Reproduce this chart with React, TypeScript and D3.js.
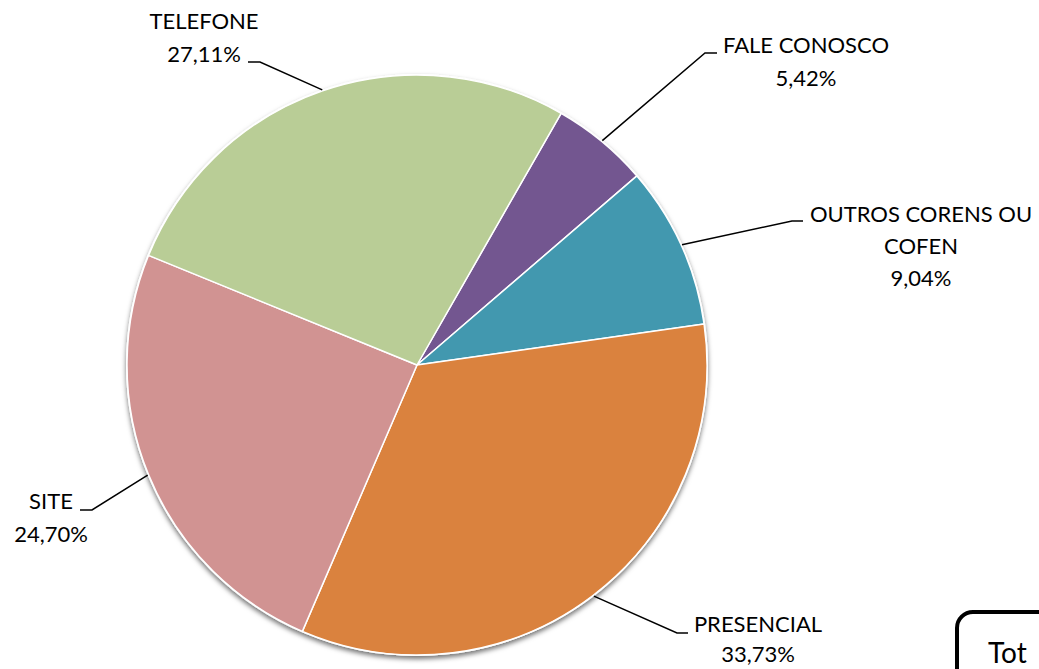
import React, { useEffect, useRef } from 'react';
import * as d3 from 'd3';

// data in the order the slices run clockwise from the first slice
const categories = ['FALE CONOSCO', 'OUTROS CORENS OU COFEN', 'PRESENCIAL', 'SITE', 'TELEFONE'];
const shares = [5.42, 9.04, 33.73, 24.7, 27.11];
const colors = ['#735690', '#4298AF', '#DA823E', '#D19392', '#B9CD96'];
const labelLines = [['FALE CONOSCO'], ['OUTROS CORENS OU', 'COFEN'], ['PRESENCIAL'], ['SITE'], ['TELEFONE']];

// layout of the callouts (text centre x, first baseline y, line gap, leader y, elbow x, text edge x)
const labelLayout = [
  { x: 806, y: 53, gap: 33, lineY: 53, elbow: 705, edge: 717 },
  { x: 921, y: 222, gap: 32, lineY: 221, elbow: 792, edge: 803 },
  { x: 758, y: 632, gap: 30, lineY: 633, elbow: 677, edge: 688 },
  { x: 51, y: 509, gap: 33, lineY: 510, elbow: 92, edge: 80 },
  { x: 204, y: 29, gap: 33, lineY: 62, elbow: 260, edge: 248 }
];

const FONT = "Lato, 'Open Sans', Arial, sans-serif";

const App = () => {
  const svgRef = useRef(null);

  useEffect(() => {
    if (!svgRef.current) return;
    const width = 1039;
    const height = 669;
    const cx = 417;
    const cy = 365;
    const radius = 290;

    const svg = d3.select(svgRef.current);
    svg.selectAll('*').remove();
    svg.attr('width', width).attr('height', height).attr('viewBox', [0, 0, width, height]);

    svg.append('rect').attr('width', width).attr('height', height).attr('fill', '#fff');

    const defs = svg.append('defs');
    const filter = defs.append('filter')
      .attr('id', 'pieShadow')
      .attr('x', '-10%').attr('y', '-10%')
      .attr('width', '120%').attr('height', '120%');
    filter.append('feDropShadow')
      .attr('dx', 0).attr('dy', 3)
      .attr('stdDeviation', 2.5)
      .attr('flood-color', '#000')
      .attr('flood-opacity', 0.55);

    const startOffset = (29.8 * Math.PI) / 180;
    const pie = d3.pie<number>()
      .sort(null)
      .value(d => d)
      .startAngle(startOffset)
      .endAngle(startOffset + 2 * Math.PI);
    const arcs = pie(shares);
    const arc = d3.arc<d3.PieArcDatum<number>>().innerRadius(0).outerRadius(radius);

    const g = svg.append('g').attr('transform', `translate(${cx},${cy})`);

    // shadow disc under the pie
    g.append('circle')
      .attr('r', radius + 1)
      .attr('fill', '#fff')
      .attr('filter', 'url(#pieShadow)');

    g.selectAll('path.slice')
      .data(arcs)
      .enter()
      .append('path')
      .attr('class', 'slice')
      .attr('d', arc)
      .attr('fill', (d, i) => colors[i])
      .attr('stroke', '#fff')
      .attr('stroke-width', 1.5)
      .attr('stroke-linejoin', 'round');

    // leader lines and labels
    arcs.forEach((d, i) => {
      const mid = (d.startAngle + d.endAngle) / 2;
      const px = cx + (radius + 1) * Math.sin(mid);
      const py = cy - (radius + 1) * Math.cos(mid);
      const lay = labelLayout[i];
      const lines = labelLines[i];

      svg.append('polyline')
        .attr('points', `${px},${py} ${lay.elbow},${lay.lineY} ${lay.edge},${lay.lineY}`)
        .attr('fill', 'none')
        .attr('stroke', '#000')
        .attr('stroke-width', 1.5);

      const t = svg.append('text')
        .attr('text-anchor', 'middle')
        .attr('font-family', FONT)
        .attr('font-size', 22)
        .attr('fill', '#000');
      lines.forEach((ln, k) => {
        t.append('tspan').attr('x', lay.x).attr('y', lay.y + k * lay.gap).text(ln);
      });
      t.append('tspan')
        .attr('x', lay.x)
        .attr('y', lay.y + lines.length * lay.gap)
        .text(d3.format('.2f')(shares[i]).replace('.', ',') + '%');
    });

    // total box, cut by the right and bottom edges
    svg.append('rect')
      .attr('x', 957).attr('y', 612)
      .attr('width', 140).attr('height', 100)
      .attr('rx', 16)
      .attr('fill', '#fff')
      .attr('stroke', '#000')
      .attr('stroke-width', 4);
    svg.append('text')
      .attr('x', 988).attr('y', 663)
      .attr('font-family', FONT)
      .attr('font-size', 28)
      .attr('fill', '#000')
      .text('Tot');
  }, []);

  return (
    <svg
      ref={svgRef}
      style={{ position: 'absolute', left: 0, top: 0, display: 'block' }}
    ></svg>
  );
};

export default App;
